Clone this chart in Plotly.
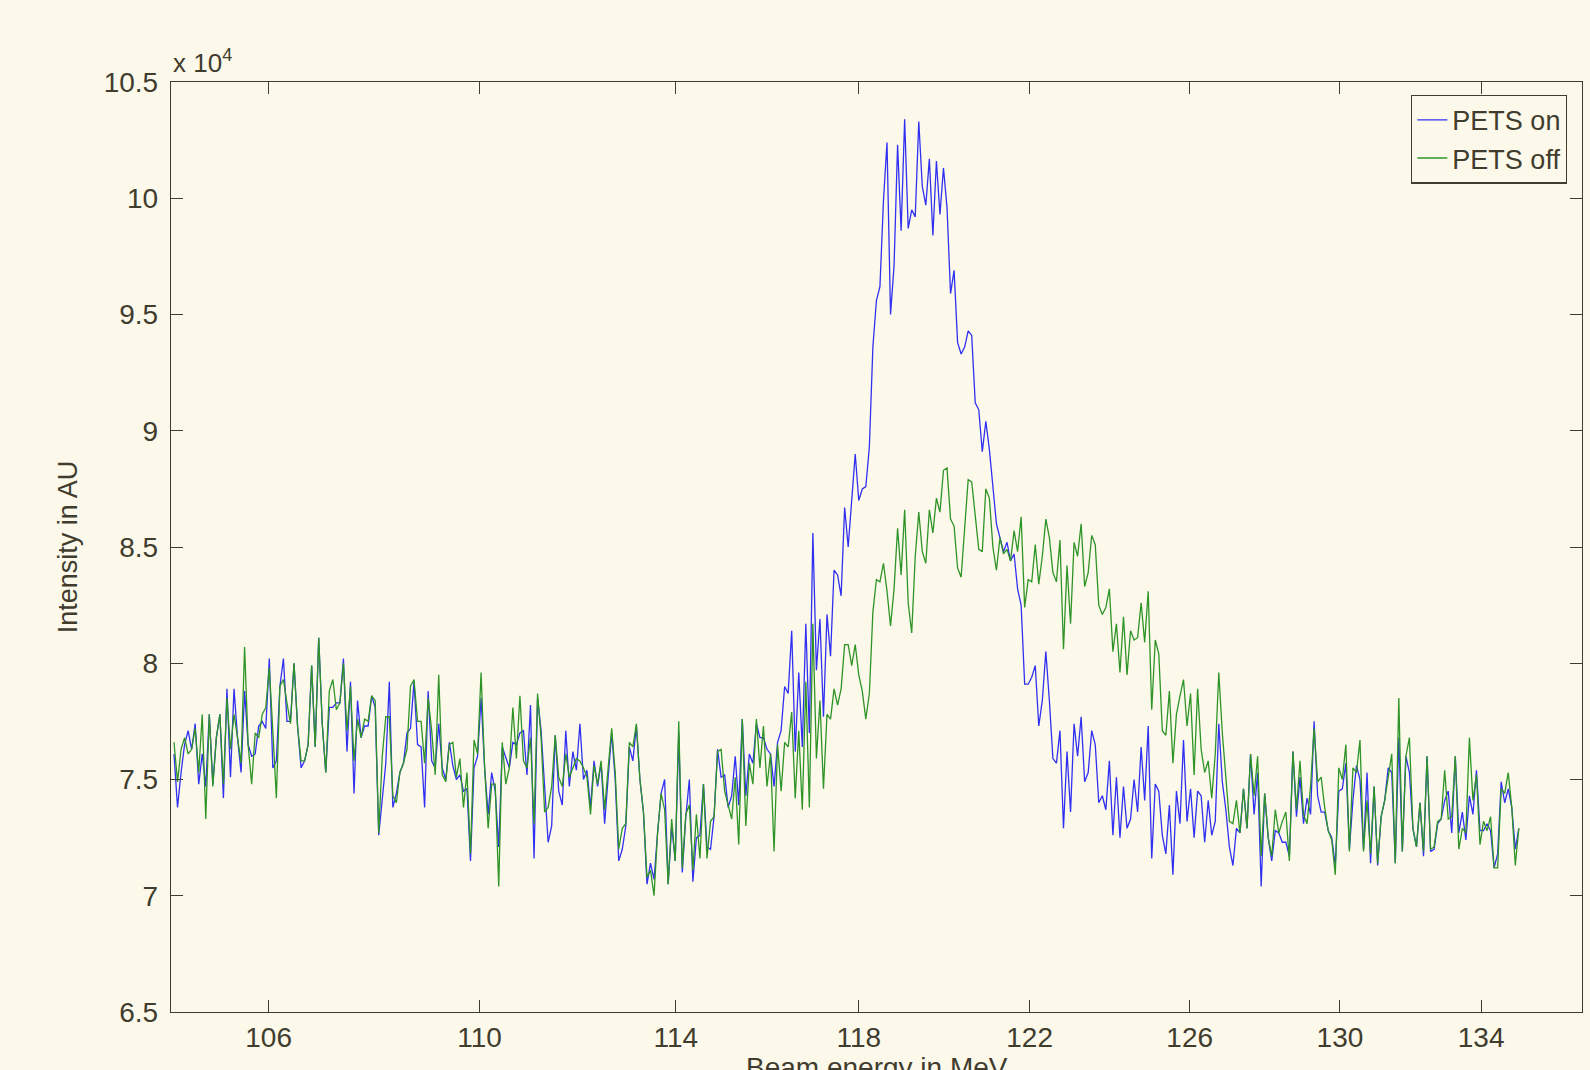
import numpy as np
import plotly.graph_objects as go

# Screen intensity per spectrometer channel, in units of 1e4 AU
pets_on_1e4 = [
    7.61, 7.38, 7.53, 7.65, 7.71, 7.63, 7.74, 7.48, 7.61, 7.47,
    7.78, 7.48, 7.68, 7.78, 7.42, 7.89, 7.51, 7.89, 7.68, 7.53,
    7.88, 7.65, 7.60, 7.61, 7.73, 7.75, 7.72, 8.02, 7.55, 7.58,
    7.90, 8.02, 7.75, 7.75, 8.00, 7.73, 7.55, 7.58, 7.65, 7.99,
    7.64, 8.11, 7.74, 7.53, 7.81, 7.81, 7.83, 7.83, 8.02, 7.62,
    7.92, 7.44, 7.84, 7.68, 7.73, 7.73, 7.86, 7.81, 7.26, 7.41,
    7.57, 7.92, 7.38, 7.44, 7.53,
    7.57, 7.70, 7.72, 7.92, 7.65, 7.64, 7.38, 7.88, 7.58, 7.55,
    7.74, 7.55, 7.50, 7.66, 7.56, 7.50, 7.52, 7.45, 7.46, 7.15,
    7.55, 7.60, 7.85, 7.55, 7.35, 7.53, 7.45, 7.21, 7.64, 7.59,
    7.55, 7.66, 7.65, 7.70, 7.71, 7.52, 7.82, 7.16, 7.85, 7.71,
    7.48, 7.23, 7.30, 7.69, 7.45, 7.39, 7.71, 7.47, 7.62, 7.54,
    7.74, 7.50, 7.54, 7.38, 7.58, 7.47, 7.57, 7.31, 7.51, 7.70,
    7.50, 7.15, 7.20, 7.30, 7.64,
    7.58, 7.73, 7.50, 7.36, 7.05, 7.14, 7.07, 7.27, 7.44, 7.50,
    7.05, 7.30, 7.15, 7.70, 7.10, 7.34, 7.50, 7.06, 7.25, 7.26,
    7.48, 7.21, 7.20, 7.34, 7.63, 7.51, 7.52, 7.38, 7.43, 7.60,
    7.39, 7.76, 7.43, 7.61, 7.57, 7.74, 7.68, 7.68, 7.63, 7.61,
    7.47, 7.66,
    7.71, 7.90, 7.87, 8.14, 7.62, 7.96, 7.64, 8.17, 7.70, 8.56,
    7.97, 8.19, 7.77, 8.21, 8.03, 8.40, 8.38, 8.29, 8.67, 8.50,
    8.70, 8.90, 8.70, 8.75, 8.76, 8.93,
    9.36, 9.56, 9.62, 9.99, 10.24, 9.50, 9.71, 10.23, 9.86, 10.34,
    9.87, 9.95, 9.92, 10.33, 10.05, 9.97, 10.17, 9.84, 10.16, 9.93,
    10.13, 9.96, 9.59, 9.69, 9.38, 9.33, 9.36, 9.43, 9.41, 9.12,
    9.09, 8.91, 9.04,
    8.92, 8.76, 8.60, 8.54, 8.48, 8.52, 8.44, 8.47, 8.32, 8.25,
    7.91, 7.91, 7.94, 7.99, 7.73, 7.84, 8.05, 7.84, 7.59, 7.57,
    7.71, 7.29, 7.62, 7.36, 7.74, 7.60, 7.77, 7.49, 7.53, 7.71,
    7.65, 7.40, 7.43, 7.37, 7.58, 7.26, 7.51, 7.25, 7.47, 7.29,
    7.33, 7.50, 7.36,
    7.64, 7.41, 7.73, 7.16, 7.48, 7.45, 7.26, 7.18, 7.39, 7.09,
    7.45, 7.31, 7.67, 7.32, 7.46, 7.25, 7.45, 7.43, 7.23, 7.41,
    7.26, 7.32, 7.74, 7.49, 7.37, 7.21, 7.13, 7.29, 7.27, 7.46,
    7.29, 7.61, 7.35, 7.53, 7.04, 7.44, 7.25, 7.15, 7.28, 7.27,
    7.23, 7.23, 7.17, 7.62, 7.34, 7.51,
    7.31, 7.42, 7.35, 7.75, 7.43, 7.36, 7.36, 7.28, 7.25, 7.13,
    7.45, 7.46, 7.57, 7.20, 7.41, 7.56, 7.50, 7.20, 7.53, 7.14,
    7.47, 7.13, 7.34, 7.41, 7.55, 7.53, 7.14, 7.68, 7.19, 7.60,
    7.53, 7.29, 7.21, 7.40, 7.17, 7.60, 7.19, 7.20, 7.31, 7.33,
    7.41, 7.45, 7.27, 7.60, 7.27, 7.36, 7.24, 7.43, 7.35, 7.54,
    7.28, 7.28, 7.31, 7.28, 7.12, 7.18, 7.49, 7.40, 7.46, 7.38,
    7.20, 7.29,
]

pets_off_1e4 = [
    7.66, 7.49, 7.63, 7.68, 7.61, 7.63, 7.72, 7.53, 7.78, 7.33,
    7.78, 7.47, 7.68, 7.78, 7.48, 7.85, 7.63, 7.78, 7.68, 7.57,
    8.07, 7.65, 7.48, 7.70, 7.68, 7.78, 7.81, 7.98, 7.71, 7.42,
    7.90, 7.93, 7.83, 7.74, 8.00, 7.73, 7.58, 7.58, 7.65, 7.99,
    7.64, 8.11, 7.74, 7.53, 7.88, 7.93, 7.80, 7.83, 8.00, 7.71,
    7.90, 7.58, 7.76, 7.68, 7.76, 7.75, 7.86, 7.84, 7.27, 7.60,
    7.77, 7.77, 7.43, 7.40, 7.53,
    7.57, 7.63, 7.90, 7.93, 7.75, 7.75, 7.57, 7.85, 7.71, 7.52,
    7.95, 7.52, 7.49, 7.65, 7.66, 7.51, 7.59, 7.38, 7.53, 7.18,
    7.67, 7.61, 7.96, 7.55, 7.29, 7.48, 7.48, 7.04, 7.66, 7.48,
    7.55, 7.81, 7.59, 7.86, 7.58, 7.55, 7.68, 7.31, 7.87, 7.68,
    7.36, 7.38, 7.47, 7.69, 7.51, 7.47, 7.61, 7.51, 7.55, 7.59,
    7.58, 7.55, 7.51, 7.35, 7.56, 7.48, 7.58, 7.37, 7.55, 7.72,
    7.53, 7.20, 7.29, 7.31, 7.66,
    7.64, 7.74, 7.50, 7.36, 7.08, 7.11, 7.00, 7.27, 7.44, 7.37,
    7.05, 7.33, 7.15, 7.75, 7.12, 7.35, 7.39, 7.11, 7.35, 7.16,
    7.48, 7.16, 7.32, 7.34, 7.62, 7.63, 7.45, 7.39, 7.33, 7.51,
    7.22, 7.76, 7.30, 7.57, 7.48, 7.76, 7.55, 7.73, 7.47, 7.61,
    7.19, 7.65,
    7.45, 7.66, 7.64, 7.79, 7.42, 7.71, 7.37, 7.92, 7.38, 8.17,
    7.59, 7.84, 7.46, 7.78, 7.76, 7.89, 7.82, 7.89, 8.08, 8.08,
    7.99, 8.08, 7.95, 7.88, 7.76, 7.87, 8.22, 8.36, 8.35, 8.43,
    8.31, 8.16, 8.32, 8.58, 8.38, 8.66, 8.26, 8.13, 8.46, 8.65,
    8.48, 8.43, 8.66, 8.56, 8.71, 8.65, 8.83, 8.84, 8.62, 8.59,
    8.41, 8.37, 8.59, 8.79, 8.78, 8.64, 8.49,
    8.48, 8.75, 8.71, 8.50, 8.40, 8.54, 8.47, 8.49, 8.44, 8.57,
    8.48, 8.63, 8.24, 8.36, 8.35, 8.51, 8.34, 8.46, 8.62, 8.54,
    8.39, 8.35, 8.53, 8.06, 8.42, 8.17, 8.52, 8.46, 8.60, 8.33,
    8.39, 8.55, 8.51, 8.25, 8.21, 8.24, 8.32, 8.05, 8.17, 7.96,
    8.20, 7.95, 8.14, 8.10, 8.11,
    8.26, 8.09, 8.31, 7.80, 8.10, 8.04, 7.71, 7.69, 7.88, 7.57,
    7.78, 7.86, 7.93, 7.73, 7.87, 7.52, 7.89, 7.63, 7.53, 7.58,
    7.42, 7.61, 7.96, 7.70, 7.49, 7.32, 7.31, 7.41, 7.27, 7.46,
    7.29, 7.61, 7.43, 7.60, 7.17, 7.44, 7.25, 7.17, 7.37, 7.27,
    7.32, 7.36, 7.15, 7.62, 7.37, 7.58,
    7.35, 7.31, 7.47, 7.72, 7.49, 7.51, 7.38, 7.28, 7.24, 7.09,
    7.55, 7.50, 7.65, 7.19, 7.55, 7.53, 7.67, 7.19, 7.41, 7.18,
    7.47, 7.14, 7.34, 7.41, 7.51, 7.61, 7.14, 7.85, 7.19, 7.60,
    7.68, 7.29, 7.21, 7.40, 7.19, 7.60, 7.20, 7.21, 7.32, 7.33,
    7.54, 7.33, 7.34, 7.60, 7.20, 7.29, 7.27, 7.68, 7.41, 7.52,
    7.22, 7.32, 7.28, 7.34, 7.12, 7.12, 7.46, 7.44, 7.53, 7.38,
    7.13, 7.29,
]

# Beam energies labelled along the horizontal axis (MeV)
energy_ticks = [106, 110, 114, 118, 122, 126, 130, 134]
energy_labels = [str(e) for e in energy_ticks]

# Spectrometer calibration: screen channel is linear in 1/E
CAL_E_REF = 106.0
CAL_CH_REF = 26.8
CAL_SLOPE = 174269.0


def energy_to_channel(energy):
    e = np.asarray(energy, dtype=float)
    return CAL_CH_REF + CAL_SLOPE * (1.0 / CAL_E_REF - 1.0 / e)


channel_on = np.arange(len(pets_on_1e4))
channel_off = np.arange(len(pets_off_1e4))

BG = "#fdf9ea"
INK = "#403c2e"
FONT = "Liberation Sans, Arial, Helvetica, sans-serif"

fig = go.Figure()
fig.add_trace(go.Scatter(
    x=channel_on, y=pets_on_1e4, mode="lines", name="PETS on",
    line=dict(color="#3030f2", width=1.3),
))
fig.add_trace(go.Scatter(
    x=channel_off, y=pets_off_1e4, mode="lines", name="PETS off",
    line=dict(color="#2f9428", width=1.3),
))

axis_common = dict(
    showline=True, linecolor=INK, linewidth=1.4, mirror="allticks",
    ticks="inside", ticklen=12, tickwidth=1.2, tickcolor=INK,
    showgrid=False, zeroline=False, automargin=False,
    tickfont=dict(family=FONT, size=28, color=INK),
)

fig.update_xaxes(
    range=[-0.85, 398.9],
    tickmode="array",
    tickvals=energy_to_channel(energy_ticks),
    ticktext=energy_labels,
    **axis_common,
)
fig.update_yaxes(
    range=[6.5, 10.5],
    tickmode="linear", tick0=6.5, dtick=0.5,
    title=dict(text="Intensity in AU", font=dict(family=FONT, size=27, color=INK), standoff=18),
    ticklabelstandoff=6,
    **axis_common,
)

# Axis caption for the energy scale, set below the tick labels
fig.add_annotation(
    text="Beam energy in MeV", xref="paper", yref="paper", x=0.5, y=0,
    xanchor="center", yanchor="top", showarrow=False, yshift=-38,
    font=dict(family=FONT, size=28, color=INK),
)

# Common exponent of the intensity scale
fig.add_annotation(
    text="x 10<sup>4</sup>", xref="paper", yref="paper", x=0, y=1,
    xanchor="left", yanchor="bottom", showarrow=False, yshift=2,
    font=dict(family=FONT, size=26, color=INK),
)

fig.update_layout(
    width=1590, height=1070,
    margin=dict(l=171, r=8, t=82, b=58),
    paper_bgcolor=BG, plot_bgcolor=BG,
    font=dict(family=FONT, color=INK),
    showlegend=True,
    legend=dict(
        x=0.9894, y=0.9865, xanchor="right", yanchor="top",
        bgcolor=BG, bordercolor=INK, borderwidth=1.3,
        font=dict(family=FONT, size=27, color=INK),
        tracegroupgap=0,
    ),
)

fig.write_html("out.html")
